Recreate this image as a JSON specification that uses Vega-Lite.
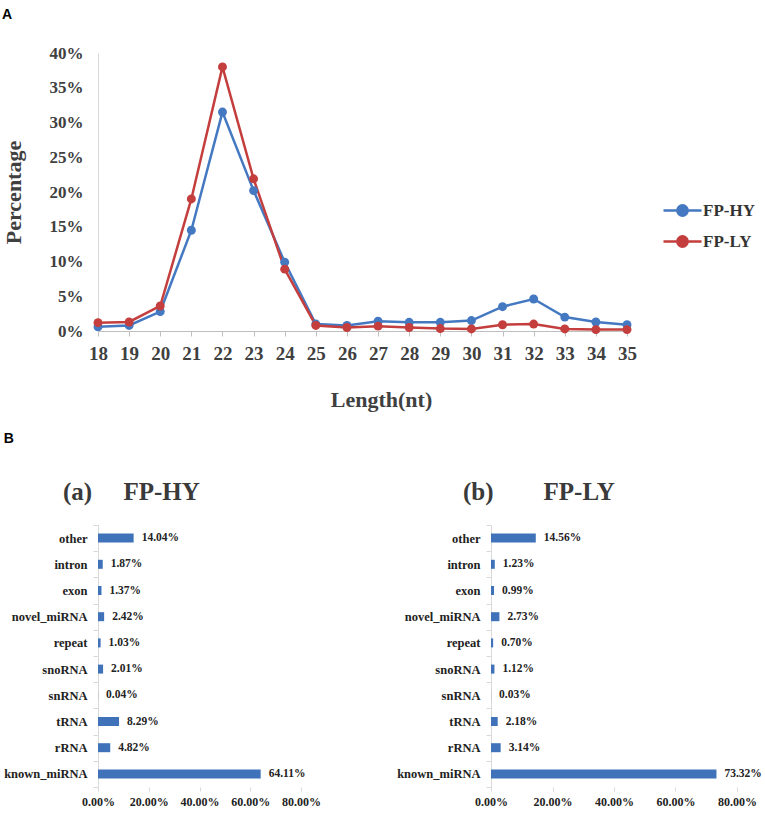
{
  "$schema": "https://vega.github.io/schema/vega-lite/v6.json",
  "background": "white",
  "padding": {"left": 2, "top": 8, "right": 5, "bottom": 5},
  "config": {
    "view": {"stroke": null},
    "font": "Liberation Serif",
    "axis": {
      "grid": false,
      "labelFont": "Liberation Serif",
      "labelFontWeight": "bold",
      "labelColor": "#404040",
      "titleFont": "Liberation Serif",
      "titleFontWeight": "bold",
      "titleColor": "#404040"
    }
  },
  "datasets": {
    "lengths": [
      {"length": 18, "sample": "FP-HY", "pct": 0.006},
      {"length": 19, "sample": "FP-HY", "pct": 0.008},
      {"length": 20, "sample": "FP-HY", "pct": 0.028},
      {"length": 21, "sample": "FP-HY", "pct": 0.145},
      {"length": 22, "sample": "FP-HY", "pct": 0.315},
      {"length": 23, "sample": "FP-HY", "pct": 0.202},
      {"length": 24, "sample": "FP-HY", "pct": 0.099},
      {"length": 25, "sample": "FP-HY", "pct": 0.010},
      {"length": 26, "sample": "FP-HY", "pct": 0.008},
      {"length": 27, "sample": "FP-HY", "pct": 0.014},
      {"length": 28, "sample": "FP-HY", "pct": 0.0125},
      {"length": 29, "sample": "FP-HY", "pct": 0.0125},
      {"length": 30, "sample": "FP-HY", "pct": 0.015},
      {"length": 31, "sample": "FP-HY", "pct": 0.035},
      {"length": 32, "sample": "FP-HY", "pct": 0.046},
      {"length": 33, "sample": "FP-HY", "pct": 0.020},
      {"length": 34, "sample": "FP-HY", "pct": 0.013},
      {"length": 35, "sample": "FP-HY", "pct": 0.009},
      {"length": 18, "sample": "FP-LY", "pct": 0.012},
      {"length": 19, "sample": "FP-LY", "pct": 0.013},
      {"length": 20, "sample": "FP-LY", "pct": 0.036},
      {"length": 21, "sample": "FP-LY", "pct": 0.190},
      {"length": 22, "sample": "FP-LY", "pct": 0.380},
      {"length": 23, "sample": "FP-LY", "pct": 0.219},
      {"length": 24, "sample": "FP-LY", "pct": 0.089},
      {"length": 25, "sample": "FP-LY", "pct": 0.008},
      {"length": 26, "sample": "FP-LY", "pct": 0.005},
      {"length": 27, "sample": "FP-LY", "pct": 0.007},
      {"length": 28, "sample": "FP-LY", "pct": 0.005},
      {"length": 29, "sample": "FP-LY", "pct": 0.0035},
      {"length": 30, "sample": "FP-LY", "pct": 0.003},
      {"length": 31, "sample": "FP-LY", "pct": 0.009},
      {"length": 32, "sample": "FP-LY", "pct": 0.010},
      {"length": 33, "sample": "FP-LY", "pct": 0.003},
      {"length": 34, "sample": "FP-LY", "pct": 0.002},
      {"length": 35, "sample": "FP-LY", "pct": 0.002}
    ],
    "hy": [
      {"cat": "other", "pct": 0.1404},
      {"cat": "intron", "pct": 0.0187},
      {"cat": "exon", "pct": 0.0137},
      {"cat": "novel_miRNA", "pct": 0.0242},
      {"cat": "repeat", "pct": 0.0103},
      {"cat": "snoRNA", "pct": 0.0201},
      {"cat": "snRNA", "pct": 0.0004},
      {"cat": "tRNA", "pct": 0.0829},
      {"cat": "rRNA", "pct": 0.0482},
      {"cat": "known_miRNA", "pct": 0.6411}
    ],
    "ly": [
      {"cat": "other", "pct": 0.1456},
      {"cat": "intron", "pct": 0.0123},
      {"cat": "exon", "pct": 0.0099},
      {"cat": "novel_miRNA", "pct": 0.0273},
      {"cat": "repeat", "pct": 0.0070},
      {"cat": "snoRNA", "pct": 0.0112},
      {"cat": "snRNA", "pct": 0.0003},
      {"cat": "tRNA", "pct": 0.0218},
      {"cat": "rRNA", "pct": 0.0314},
      {"cat": "known_miRNA", "pct": 0.7332}
    ]
  },
  "spacing": 22,
  "vconcat": [
    {
      "title": {"text": "A", "anchor": "start", "frame": "bounds", "font": "Liberation Sans", "fontSize": 14, "fontWeight": "bold", "color": "#000000", "offset": 22},
      "width": 529,
      "height": 278,
      "data": {"name": "lengths"},
      "mark": {"type": "line", "strokeWidth": 2.5, "point": {"size": 80, "filled": true, "opacity": 1}},
      "encoding": {
        "x": {
          "field": "length", "type": "ordinal",
          "scale": {"type": "point", "padding": 0},
          "axis": {"title": "Length(nt)", "labelAngle": 0, "labelFontSize": 19, "labelPadding": 8, "tickSize": 5, "tickColor": "#BFBFBF", "domainColor": "#BFBFBF", "titleFontSize": 22, "titlePadding": 26, "titleX": 283}
        },
        "y": {
          "field": "pct", "type": "quantitative",
          "scale": {"domain": [0, 0.4], "nice": false},
          "axis": {"title": "Percentage", "format": ".0%", "values": [0, 0.05, 0.1, 0.15, 0.2, 0.25, 0.3, 0.35, 0.4], "ticks": false, "labelFontSize": 17, "labelPadding": 15, "domainColor": "#D9D9D9", "titleFontSize": 22, "titlePadding": 24}
        },
        "color": {
          "field": "sample", "type": "nominal",
          "scale": {"domain": ["FP-HY", "FP-LY"], "range": ["#4479C2", "#C43E3E"]},
          "legend": {
            "title": null, "orient": "none", "legendX": 564, "legendY": 137,
            "symbolType": "M-1,0H1M0.27,0A0.27,0.27,0,1,1,-0.27,0A0.27,0.27,0,1,1,0.27,0Z",
            "symbolSize": 1444, "symbolStrokeWidth": 2.5,
            "labelFont": "Liberation Serif", "labelFontWeight": "bold", "labelFontSize": 17, "labelColor": "#333333",
            "labelOffset": 0, "rowPadding": -5,
            "encode": {"symbols": {"update": {"fill": {"scale": "color", "field": "value"}, "stroke": {"scale": "color", "field": "value"}, "opacity": {"value": 1}}}}
          }
        }
      }
    },
    {
      "title": {"text": "B", "anchor": "start", "frame": "bounds", "font": "Liberation Sans", "fontSize": 14, "fontWeight": "bold", "color": "#000000", "offset": 34},
      "spacing": 75,
      "hconcat": [
        {
          "title": {"text": "(a)\u00a0\u00a0\u00a0\u00a0\u00a0FP-HY", "anchor": "start", "frame": "group", "dx": -35, "font": "Liberation Serif", "fontSize": 25, "fontWeight": "bold", "color": "#3A3A3A", "offset": 14},
          "width": 203,
          "height": 262,
          "data": {"name": "hy"},
          "encoding": {
            "y": {
              "field": "cat", "type": "nominal",
              "sort": ["other", "intron", "exon", "novel_miRNA", "repeat", "snoRNA", "snRNA", "tRNA", "rRNA", "known_miRNA"],
              "scale": {"paddingInner": 0, "paddingOuter": 0},
              "axis": {"title": null, "tickBand": "extent", "tickSize": 5, "tickColor": "#D9D9D9", "domainColor": "#D9D9D9", "labelFontSize": 12.5, "labelColor": "#222222", "labelPadding": 6}
            },
            "x": {
              "field": "pct", "type": "quantitative",
              "scale": {"domain": [0, 0.8], "nice": false},
              "axis": {"title": null, "format": ".2%", "values": [0, 0.2, 0.4, 0.6, 0.8], "labelOverlap": false, "labelFlush": false, "domain": false, "tickSize": 4, "tickColor": "#D9D9D9", "labelFontSize": 12, "labelColor": "#222222", "labelPadding": 5}
            }
          },
          "layer": [
            {"mark": {"type": "bar", "color": "#3F72B8", "size": 9}},
            {
              "mark": {"type": "text", "align": "left", "baseline": "middle", "dx": 8, "font": "Liberation Serif", "fontWeight": "bold", "fontSize": 11.5, "color": "#222222"},
              "encoding": {"text": {"field": "pct", "type": "quantitative", "format": ".2%"}}
            }
          ]
        },
        {
          "title": {"text": "(b)\u00a0\u00a0\u00a0\u00a0\u00a0\u00a0\u00a0\u00a0FP-LY", "anchor": "start", "frame": "group", "dx": -28, "font": "Liberation Serif", "fontSize": 25, "fontWeight": "bold", "color": "#3A3A3A", "offset": 14},
          "width": 246,
          "height": 262,
          "data": {"name": "ly"},
          "encoding": {
            "y": {
              "field": "cat", "type": "nominal",
              "sort": ["other", "intron", "exon", "novel_miRNA", "repeat", "snoRNA", "snRNA", "tRNA", "rRNA", "known_miRNA"],
              "scale": {"paddingInner": 0, "paddingOuter": 0},
              "axis": {"title": null, "tickBand": "extent", "tickSize": 5, "tickColor": "#D9D9D9", "domainColor": "#D9D9D9", "labelFontSize": 12.5, "labelColor": "#222222", "labelPadding": 6}
            },
            "x": {
              "field": "pct", "type": "quantitative",
              "scale": {"domain": [0, 0.8], "nice": false},
              "axis": {"title": null, "format": ".2%", "values": [0, 0.2, 0.4, 0.6, 0.8], "labelOverlap": false, "labelFlush": false, "domain": false, "tickSize": 4, "tickColor": "#D9D9D9", "labelFontSize": 12, "labelColor": "#222222", "labelPadding": 5}
            }
          },
          "layer": [
            {"mark": {"type": "bar", "color": "#3F72B8", "size": 9}},
            {
              "mark": {"type": "text", "align": "left", "baseline": "middle", "dx": 8, "font": "Liberation Serif", "fontWeight": "bold", "fontSize": 11.5, "color": "#222222"},
              "encoding": {"text": {"field": "pct", "type": "quantitative", "format": ".2%"}}
            }
          ]
        }
      ]
    }
  ]
}
